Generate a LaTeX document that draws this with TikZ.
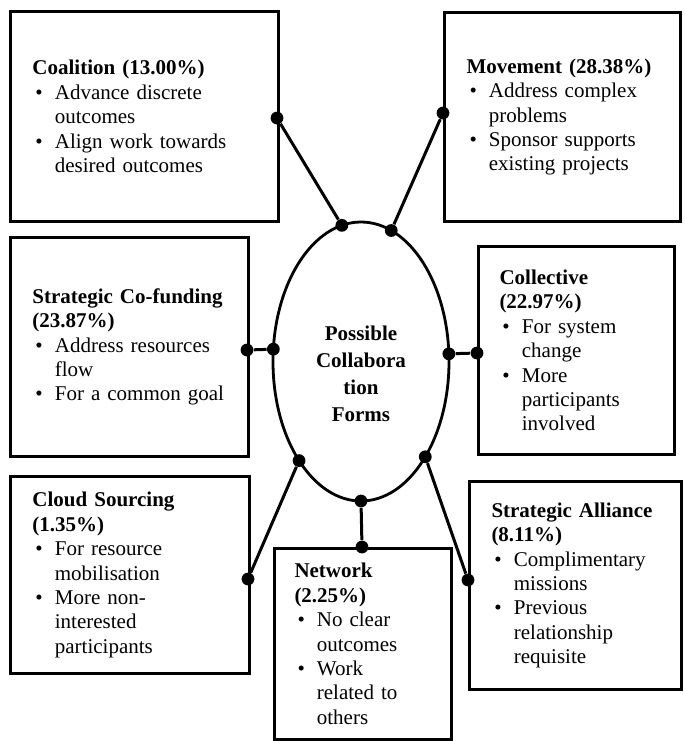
\documentclass[tikz,border=0pt]{standalone}
\usepackage{fontspec}
\setmainfont{Liberation Serif}
\usetikzlibrary{shapes.geometric,positioning}

% one bullet line, continuation lines hang under the text
\newcommand{\itm}[1]{\par\noindent\hangindent=11.2pt\hangafter=1\makebox[11.2pt][l]{\hspace{1.5pt}\textbullet}#1\par}

\begin{document}
\begin{tikzpicture}[x=0.5pt,y=-0.5pt,
  form/.style={draw,line width=1.5pt,anchor=north west,align=left,inner xsep=11pt,inner ysep=0pt,
    font=\fontsize{10.5}{12.2}\selectfont},
  joint/.style={circle,fill,inner sep=0pt,minimum size=6.4pt},
  link/.style={line width=1.5pt}]
 \useasboundingbox (0,0) rectangle (685,741);
 % centre
 \node[ellipse,draw,line width=1.4pt,minimum width=88pt,minimum height=139.5pt,inner sep=0pt,outer sep=0pt] (hub) at (361,361.5) {};
 \node[align=center,font=\bfseries\fontsize{10.5}{13.4}\selectfont] (hub_text) at (361,374) {Possible\\Collabora\\tion\\Forms};
 % forms
 \node[form,text width=112pt,minimum height=105pt] (coalition) at (9,10)
  {\textbf{Coalition (13.00\%)}\itm{Advance discrete\newline outcomes}\itm{Align work towards\newline desired outcomes}};
 \node[form,text width=96pt,minimum height=104.5pt] (movement) at (443,11)
  {\textbf{Movement (28.38\%)}\itm{Address complex\newline problems}\itm{Sponsor supports\newline existing projects}};
 \node[form,text width=97pt,minimum height=109.5pt] (cofunding) at (9,236)
  {\textbf{Strategic Co-funding\newline (23.87\%)}\itm{Address resources\newline flow}\itm{For a common goal}};
 \node[form,text width=77pt,minimum height=104pt,inner xsep=10.5pt] (collective) at (477,245)
  {\textbf{Collective\newline (22.97\%)}\itm{For system\newline change}\itm{More\newline participants\newline involved}};
 \node[form,text width=97.5pt,minimum height=98.5pt] (cloud) at (9,475)
  {\textbf{Cloud Sourcing\newline (1.35\%)}\itm{For resource\newline mobilisation}\itm{More non-\newline interested\newline participants}};
 \node[form,text width=68.5pt,minimum height=95.5pt,inner xsep=10pt] (network) at (273,547)
  {\textbf{Network\newline (2.25\%)}\itm{No clear\newline outcomes}\itm{Work\newline related to\newline others}};
 \node[form,text width=84pt,minimum height=104pt] (alliance) at (468,480)
  {\textbf{Strategic Alliance\newline (8.11\%)}\itm{Complimentary\newline missions}\itm{Previous\newline relationship\newline requisite}};
 % joints on the boxes
 \node[joint] (coalition_j) at (277,118) {};
 \node[joint] (movement_j) at (443,113) {};
 \node[joint] (cofunding_j) at (247,350) {};
 \node[joint] (collective_j) at (477,353) {};
 \node[joint] (cloud_j) at (248,579) {};
 \node[joint] (network_j) at (362,547) {};
 \node[joint] (alliance_j) at (468,580) {};
 % joints on the ellipse
 \node[joint] (hub_coalition) at (hub.98.5) {};
 \node[joint] (hub_movement) at (hub.77.9) {};
 \node[joint] (hub_cofunding) at (hub.172.6) {};
 \node[joint] (hub_collective) at (hub.5.5) {};
 \node[joint] (hub_cloud) at (hub.238.2) {};
 \node[joint] (hub_network) at (hub.270) {};
 \node[joint] (hub_alliance) at (hub.304.4) {};
 \path[link]
  (coalition_j) edge (hub_coalition)
  (movement_j) edge (hub_movement)
  (cofunding_j) edge (hub_cofunding)
  (collective_j) edge (hub_collective)
  (cloud_j) edge (hub_cloud)
  (network_j) edge (hub_network)
  (alliance_j) edge (hub_alliance);
\end{tikzpicture}
\end{document}
